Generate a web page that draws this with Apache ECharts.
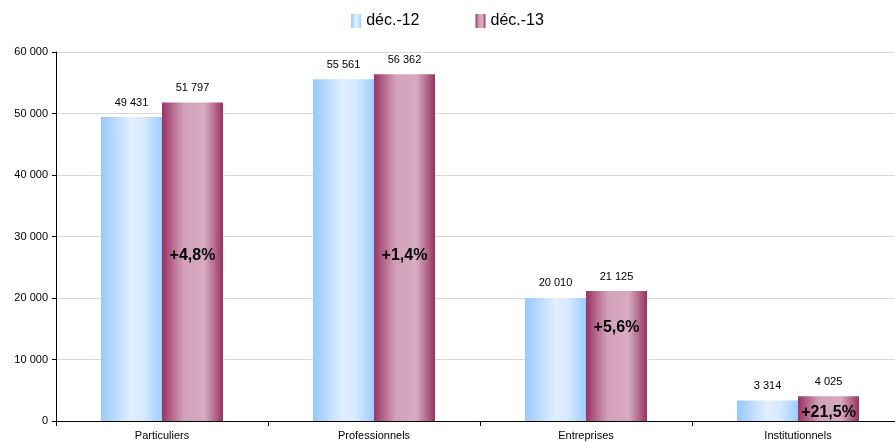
<!DOCTYPE html>
<html>
<head>
<meta charset="utf-8">
<script src="https://cdn.jsdelivr.net/npm/echarts@6/dist/echarts.min.js"></script>
<style>
  html, body { margin: 0; padding: 0; background: #fff; }
  #main { width: 895px; height: 442px; }
</style>
</head>
<body>
<div id="main"></div>
<script>
var categories = ['Particuliers', 'Professionnels', 'Entreprises', 'Institutionnels'];
var seriesNames = ['déc.-12', 'déc.-13'];
var values12 = [49431, 55561, 20010, 3314];
var values13 = [51797, 56362, 21125, 4025];
var growthLabels = ['+4,8%', '+1,4%', '+5,6%', '+21,5%'];

// vertical placement of the growth label inside each dec-13 bar (pixels below bar top)
var growthOffsets = [153, 181, 37, 16];

function fmt(v) {
  return String(v).replace(/\B(?=(\d{3})+(?!\d))/g, ' ');
}

var blueFill = new echarts.graphic.LinearGradient(0, 0, 1, 0, [
  { offset: 0, color: '#99c9fb' },
  { offset: 0.5, color: '#e2efff' },
  { offset: 0.7, color: '#d6e9fe' },
  { offset: 1, color: '#9ecdfb' }
]);
var maroonFill = new echarts.graphic.LinearGradient(0, 0, 1, 0, [
  { offset: 0, color: '#993366' },
  { offset: 0.35, color: '#d2a1b9' },
  { offset: 0.7, color: '#d6abc0' },
  { offset: 1, color: '#98335f' }
]);

var chartDom = document.getElementById('main');
var myChart = echarts.init(chartDom);

var valueLabel = {
  show: true,
  position: 'top',
  distance: 9,
  color: '#000',
  fontSize: 11,
  formatter: function (p) { return fmt(p.value); }
};

var option = {
  animation: false,
  textStyle: { fontFamily: 'Liberation Sans, Arial, sans-serif' },
  legend: {
    top: 8,
    left: 'center',
    itemGap: 56,
    itemWidth: 10,
    itemHeight: 14,
    icon: 'rect',
    textStyle: { fontSize: 16, color: '#000' },
    data: [
      { name: seriesNames[0], itemStyle: { color: blueFill } },
      { name: seriesNames[1], itemStyle: { color: maroonFill } }
    ]
  },
  grid: {
    left: 56, width: 848, top: 52, bottom: 21,
    containLabel: false, outerBoundsMode: 'none'
  },
  xAxis: {
    type: 'category',
    data: categories,
    axisLine: { lineStyle: { color: '#000', width: 1 } },
    axisTick: { show: true, length: 5, lineStyle: { color: '#000' } },
    axisLabel: { color: '#000', fontSize: 11, margin: 9 },
    splitLine: { show: false }
  },
  yAxis: {
    type: 'value',
    min: 0,
    max: 60000,
    interval: 10000,
    axisLine: { show: true, lineStyle: { color: '#000', width: 1 } },
    axisTick: { show: true, length: 4, lineStyle: { color: '#000' } },
    axisLabel: { color: '#000', fontSize: 11, margin: 8, formatter: fmt },
    splitLine: { lineStyle: { color: '#d9d9d9', width: 1 } }
  },
  series: [
    {
      name: seriesNames[0],
      type: 'bar',
      barWidth: 61,
      barGap: '0%',
      itemStyle: { color: blueFill },
      label: valueLabel,
      data: values12
    },
    {
      name: seriesNames[1],
      type: 'bar',
      barWidth: 61,
      barGap: '0%',
      itemStyle: { color: maroonFill },
      label: valueLabel,
      data: values13
    },
    {
      // growth labels, anchored at the top of each dec-13 bar
      name: 'growth',
      type: 'scatter',
      symbolSize: 0,
      silent: true,
      z: 5,
      itemStyle: { opacity: 1 },
      data: values13.map(function (v, i) {
        return {
          value: v,
          label: {
            show: true,
            position: 'inside',
            offset: [30.5, growthOffsets[i]],
            align: 'center',
            verticalAlign: 'middle',
            formatter: growthLabels[i],
            fontSize: 16,
            fontWeight: 'bold',
            color: '#000',
            opacity: 1,
            textBorderWidth: 0
          }
        };
      })
    }
  ]
};

myChart.setOption(option);
</script>
</body>
</html>
